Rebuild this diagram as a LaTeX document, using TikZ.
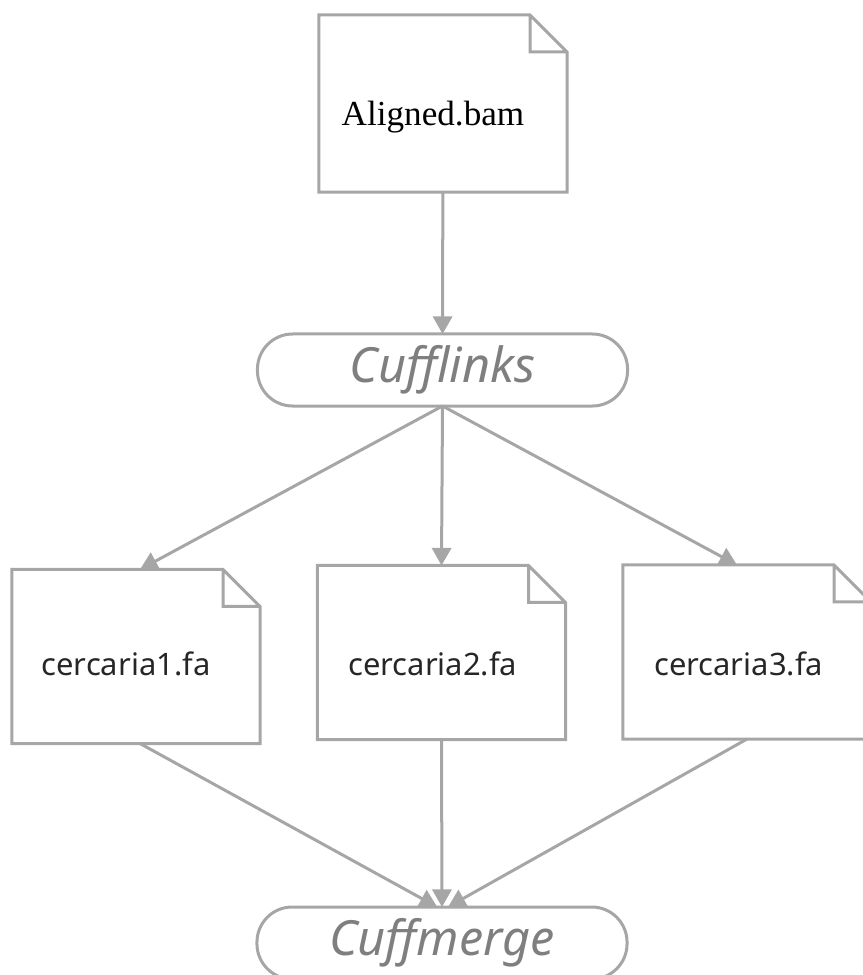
\documentclass[tikz,border=0pt]{standalone}
\usepackage{fontspec}
\setmainfont{Liberation Serif}
\newfontfamily\notosans{Noto Sans}
\usetikzlibrary{arrows.meta,positioning}
\definecolor{lineg}{HTML}{A6A6A6}
\definecolor{pillg}{HTML}{7F7F7F}
\definecolor{textg}{HTML}{262626}
\tikzset{
  doc/.style={minimum width=6.2cm, minimum height=4.35cm, inner sep=0pt, outer sep=0pt},
  docline/.style={draw=lineg, line width=0.075cm, line join=miter},
  pill/.style={draw=lineg, line width=0.075cm, rounded corners=0.88cm, minimum width=9.25cm,
    minimum height=1.8cm, inner sep=0pt, outer sep=0pt, text=pillg,
    font=\notosans\itshape\fontsize{34.5}{40}\selectfont},
  fafile/.style={font=\notosans\fontsize{22}{26}\selectfont, text=textg},
  flow/.style={draw=lineg, line width=0.075cm, -{Triangle[length=0.44cm, width=0.48cm]}}
}
\begin{document}
\begin{tikzpicture}[x=0.025cm, y=-0.025cm]
\useasboundingbox (0,0) rectangle (863,975);

\node[doc, minimum height=4.425cm, label={[xshift=-0.25cm, yshift=-0.34cm, font=\fontsize{25}{29}\selectfont]center:Aligned.bam}] (aligned) at (443,103.5) {};
\node[pill] (cufflinks) at (442.5,370) {Cufflinks};

\node[doc, label={[fafile, xshift=-0.25cm, yshift=-0.19cm]center:cercaria1.fa}] (cerc1) at (136,656.5) {};
\node[doc, label={[fafile, xshift=-0.22cm, yshift=-0.29cm]center:cercaria2.fa}] (cerc2) at (441.5,652.5) {};
\node[doc, label={[fafile, xshift=-0.21cm, yshift=-0.3cm]center:cercaria3.fa}] (cerc3) at (747,652) {};

\node[pill] (cuffmerge) at (442,943) {Cuffmerge};

% folded paper outlines
\foreach \n in {aligned,cerc1,cerc2,cerc3}
  \draw[docline] (\n.south west) -- (\n.north west) -- ([xshift=-0.925cm]\n.north east)
    -- ([yshift=-0.925cm]\n.north east) -- (\n.south east) -- cycle
    ([xshift=-0.925cm]\n.north east) |- ([yshift=-0.925cm]\n.north east);

\draw[flow] (aligned) -- (cufflinks);
\draw[flow] (cufflinks.south) -- ([xshift=0.1cm]cerc1.north);
\draw[flow] (cufflinks.south) -- (cerc2.north);
\draw[flow] (cufflinks.south) -- ([xshift=-0.25cm]cerc3.north);

\draw[flow] ([xshift=0.1cm]cerc1.south) -- ([xshift=-0.12cm]cuffmerge.north);
\draw[flow] (cerc2.south) -- (cuffmerge.north);
\draw[flow] (cerc3.south) -- ([xshift=0.15cm]cuffmerge.north);
\end{tikzpicture}
\end{document}
